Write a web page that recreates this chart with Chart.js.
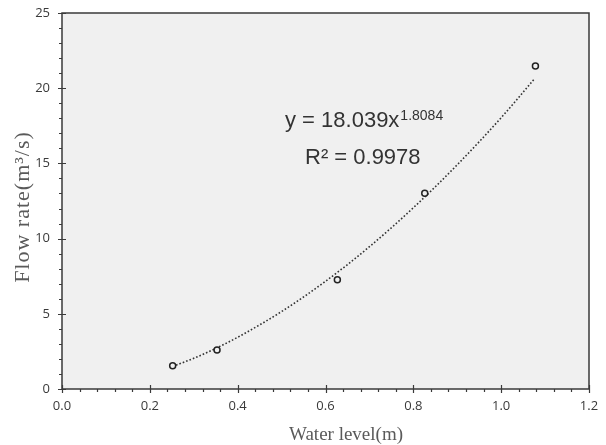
<!DOCTYPE html>
<html>
<head>
<meta charset="utf-8">
<script src="https://cdn.jsdelivr.net/npm/chart.js@4.4.0/dist/chart.umd.min.js"></script>
<style>
  html, body { margin: 0; padding: 0; background: #fff; }
  #chart { display: block; }
</style>
</head>
<body>
<canvas id="chart" width="606" height="445"></canvas>
<script>
// measured points
const waterLevel = [0.252, 0.353, 0.627, 0.826, 1.078];
const flowRate = [1.55, 2.59, 7.27, 13.01, 21.48];

// dotted power trendline
const trendX = [0.252, 0.30, 0.35, 0.40, 0.50, 0.60, 0.70, 0.80, 0.90, 1.00, 1.075];
const trendY = [1.50, 2.04, 2.70, 3.44, 5.15, 7.16, 9.46, 12.05, 14.91, 18.04, 20.6];

const xRange = [0, 1.2];
const yRange = [0, 25];

const equationText = 'y = 18.039x';
const exponentText = '1.8084';
const r2Text = 'R² = 0.9978';
const xTitle = 'Water level(m)';
const yTitle = 'Flow rate(m³/s)';

const axisColor = '#3a3a3a';

// plot background, frame and tick marks
const framePlugin = {
    id: 'framePlugin',
    beforeDraw(chart) {
        const { ctx, chartArea: a } = chart;
        ctx.save();
        ctx.fillStyle = '#f0f0f0';
        ctx.fillRect(a.left, a.top, a.right - a.left, a.bottom - a.top);
        ctx.restore();
    },
    beforeDatasetsDraw(chart) {
        const { ctx, chartArea: a, scales: { x, y } } = chart;
        ctx.save();
        ctx.strokeStyle = axisColor;
        ctx.lineWidth = 1.5;
        ctx.strokeRect(a.left, a.top, a.right - a.left, a.bottom - a.top);

        ctx.lineWidth = 1.2;
        ctx.beginPath();
        // x ticks: major every 0.2, minor every 0.04
        for (let i = 0; i <= 30; i++) {
            const px = Math.round(x.getPixelForValue(i * 0.04)) + 0.5;
            if (i % 5 === 0) {
                ctx.moveTo(px, a.bottom - 4);
                ctx.lineTo(px, a.bottom + 4);
            } else {
                ctx.moveTo(px, a.bottom);
                ctx.lineTo(px, a.bottom + 3);
            }
        }
        // y ticks: major every 5, minor every 1
        for (let i = 0; i <= 25; i++) {
            const py = Math.round(y.getPixelForValue(i)) + 0.5;
            if (i % 5 === 0) {
                ctx.moveTo(a.left - 4, py);
                ctx.lineTo(a.left + 4, py);
            } else {
                ctx.moveTo(a.left - 3, py);
                ctx.lineTo(a.left, py);
            }
        }
        ctx.stroke();
        ctx.restore();
    },
    afterDraw(chart) {
        const { ctx } = chart;
        ctx.save();
        // trendline equation
        ctx.fillStyle = '#333';
        ctx.textBaseline = 'alphabetic';
        ctx.textAlign = 'left';
        ctx.font = '22px "Liberation Sans", Arial, sans-serif';
        ctx.fillText(equationText, 285, 127);
        const w = ctx.measureText(equationText).width;
        ctx.font = '14px "Liberation Sans", Arial, sans-serif';
        ctx.fillText(exponentText, 285 + w + 1, 120);
        ctx.font = '22px "Liberation Sans", Arial, sans-serif';
        ctx.fillText(r2Text, 305, 164);

        // axis titles
        ctx.fillStyle = '#5a5a5a';
        ctx.font = '19px "Liberation Serif", "Times New Roman", serif';
        ctx.textAlign = 'center';
        ctx.fillText(xTitle, 346, 440);
        ctx.translate(29, 207);
        ctx.rotate(-Math.PI / 2);
        ctx.font = '22px "Liberation Serif", "Times New Roman", serif';
        ctx.letterSpacing = '1px';
        ctx.fillText(yTitle, 0, 0);
        ctx.restore();
    }
};

new Chart(document.getElementById('chart'), {
    type: 'scatter',
    data: {
        datasets: [{
            label: 'Measured',
            data: waterLevel.map((v, i) => ({ x: v, y: flowRate[i] })),
            pointStyle: 'circle',
            pointRadius: 3,
            pointBorderWidth: 1.5,
            borderColor: '#222',
            backgroundColor: '#f0f0f0',
            order: 0
        }, {
            label: 'Power trend',
            data: trendX.map((v, i) => ({ x: v, y: trendY[i] })),
            showLine: true,
            pointRadius: 0,
            borderColor: '#333',
            borderWidth: 1.6,
            borderDash: [1.6, 2],
            cubicInterpolationMode: 'monotone',
            order: 1
        }]
    },
    options: {
        responsive: false,
        animation: false,
        layout: { padding: { top: 13, right: 17, left: 0, bottom: 0 } },
        plugins: {
            legend: { display: false },
            tooltip: { enabled: false }
        },
        scales: {
            x: {
                type: 'linear',
                min: xRange[0],
                max: xRange[1],
                grid: { display: false, drawTicks: false },
                border: { display: false },
                ticks: {
                    stepSize: 0.2,
                    padding: 9,
                    color: '#3a3a3a',
                    font: { family: '"Open Sans", sans-serif', size: 13 },
                    callback: v => v.toFixed(1)
                },
                afterFit: s => { s.height = 56; s.paddingLeft = 0; s.paddingRight = 0; }
            },
            y: {
                min: yRange[0],
                max: yRange[1],
                grid: { display: false, drawTicks: false },
                border: { display: false },
                ticks: {
                    stepSize: 5,
                    padding: 12,
                    color: '#3a3a3a',
                    font: { family: '"Open Sans", sans-serif', size: 13 }
                },
                afterFit: s => { s.width = 62; s.paddingTop = 0; s.paddingBottom = 0; }
            }
        }
    },
    plugins: [framePlugin]
});
</script>
</body>
</html>
